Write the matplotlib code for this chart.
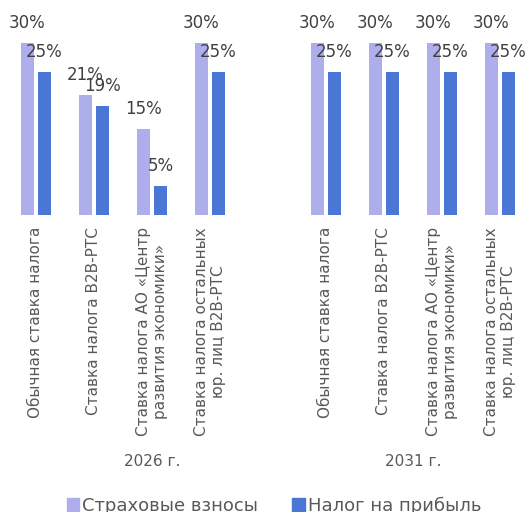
import matplotlib
matplotlib.use("Agg")
import matplotlib.pyplot as plt
from matplotlib.patches import Patch

plt.rcParams['font.family'] = ['DejaVu Sans']

# data
categories = [
    "Обычная ставка налога",
    "Ставка налога B2B-РТС",
    "Ставка налога АО «Центр\nразвития экономики»",
    "Ставка налога остальных\nюр. лиц B2B-РТС",
]
years = ["2026 г.", "2031 г."]
insurance_2026 = [30, 21, 15, 30]
profit_2026 = [25, 19, 5, 25]
insurance_2031 = [30, 30, 30, 30]
profit_2031 = [25, 25, 25, 25]
series_names = ["Страховые взносы", "Налог на прибыль"]

light = "#aeaeec"
dark = "#4a76d6"
label_col = "#404040"
text_col = "#595959"

fig = plt.figure(figsize=(5.3, 5.12), dpi=100)
ax = fig.add_axes([0, 0.58, 1, 0.42])

pos = [0, 1, 2, 3, 5, 6, 7, 8]
ins = insurance_2026 + insurance_2031
prof = profit_2026 + profit_2031
w = 0.224
off = 0.147

ax.bar([p - off for p in pos], ins, width=w, color=light)
ax.bar([p + off for p in pos], prof, width=w, color=dark)

for p, v in zip(pos, ins):
    ax.annotate(f"{v}%", (p - off, v), xytext=(0, 11), textcoords="offset pixels",
                ha="center", va="bottom", fontsize=12, color=label_col)
for p, v in zip(pos, prof):
    ax.annotate(f"{v}%", (p + off, v), xytext=(0, 11), textcoords="offset pixels",
                ha="center", va="bottom", fontsize=12, color=label_col)

ax.set_xlim(-36 / 58, (530 - 36) / 58)
ax.set_ylim(0, 37.5)
ax.set_xticks(pos)
ax.set_xticklabels(categories * 2, rotation=90, fontsize=11, color=text_col)
for t in ax.get_xticklabels():
    t.set_multialignment("center")
ax.tick_params(axis="x", length=0, pad=8.6)
ax.set_yticks([])
for s in ax.spines.values():
    s.set_visible(False)

# year labels
fig.text(152 / 530, 1 - 461 / 512, years[0], ha="center", va="center",
         fontsize=11, color=text_col)
fig.text(413 / 530, 1 - 461 / 512, years[1], ha="center", va="center",
         fontsize=11, color=text_col)

handles = [Patch(color=light), Patch(color=dark)]
fig.legend(handles, series_names, ncol=2, loc="center",
           bbox_to_anchor=(274 / 530, 1 - 506 / 512), frameon=False,
           fontsize=13, labelcolor=text_col, handlelength=0.7, handleheight=0.7,
           handletextpad=0.15, columnspacing=1.9)

fig.savefig("out.png", dpi=100)
